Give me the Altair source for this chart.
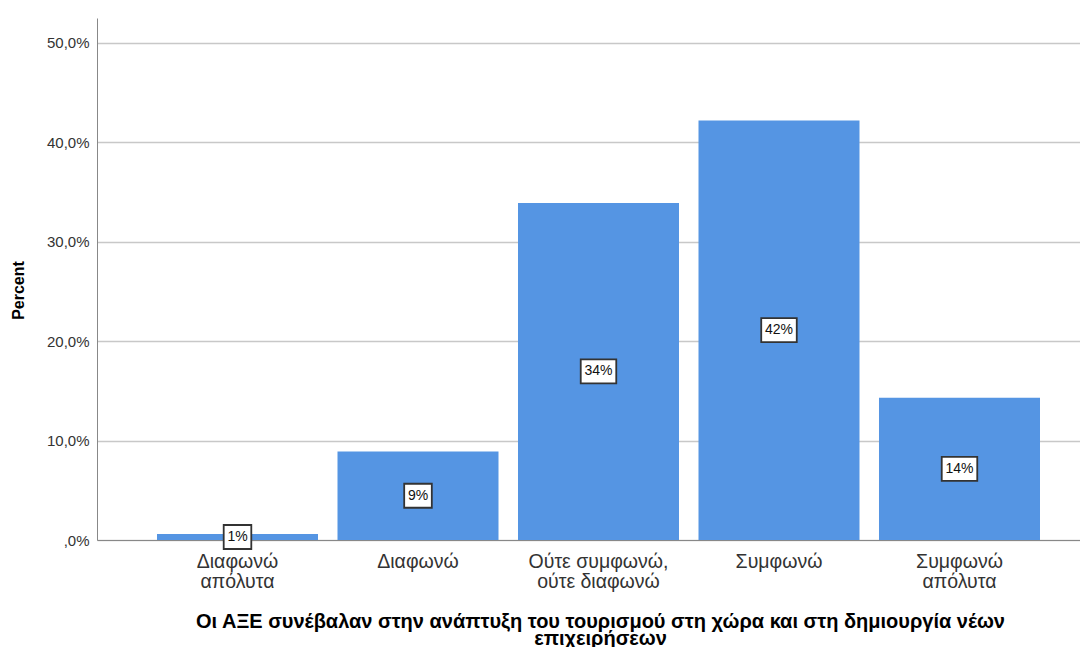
import altair as alt
import pandas as pd

# category labels ("|" marks a line break in the axis label)
categories = [
    "Διαφωνώ|απόλυτα",
    "Διαφωνώ",
    "Ούτε συμφωνώ,|ούτε διαφωνώ",
    "Συμφωνώ",
    "Συμφωνώ|απόλυτα",
]
percents = [0.6, 8.9, 33.9, 42.2, 14.3]
bar_labels = ["1%", "9%", "34%", "42%", "14%"]
y_ticks = [0, 10, 20, 30, 40, 50]

df = pd.DataFrame({"cat": categories, "pct": percents, "lbl": bar_labels})

FONT = "Liberation Sans"

x_scale = alt.Scale(paddingInner=0.108, paddingOuter=0.277, align=0.6)

x_enc = alt.X(
    "cat:N",
    sort=categories,
    scale=x_scale,
    axis=alt.Axis(
        labelExpr="split(datum.label, '|')",
        labelAngle=0,
        labelFontSize=19.5,
        labelLineHeight=20,
        labelColor="#333333",
        labelPadding=12,
        ticks=False,
        domainColor="#888888",
        grid=False,
        title=[
            "Οι ΑΞΕ συνέβαλαν στην ανάπτυξη του τουρισμού στη χώρα και στη δημιουργία νέων",
            "επιχειρήσεων",
        ],
        titleFontSize=20,
        titleFontWeight="bold",
        titleColor="#000000",
        titleLineHeight=17,
        titleX=503,
        titleY=71,
        titleBaseline="top",
        titleAlign="center",
    ),
)

y_scale = alt.Scale(domain=[0, 52.5], nice=False, zero=True)

base = alt.Chart(df)

bars = base.mark_bar(color="#5595e3").encode(
    x=x_enc,
    y=alt.Y(
        "pct:Q",
        scale=y_scale,
        axis=alt.Axis(
            values=y_ticks,
            labelExpr="datum.value == 0 ? ',0%' : replace(format(datum.value, '.1f'), '.', ',') + '%'",
            labelFontSize=15,
            labelColor="#333333",
            labelPadding=8,
            ticks=False,
            domainColor="#888888",
            grid=True,
            gridColor="#c8c8c8",
            gridWidth=1.3,
            title="Percent",
            titleFontSize=16,
            titleFontWeight="bold",
            titleColor="#000000",
            titleAngle=270,
            titleAlign="center",
            titleBaseline="alphabetic",
            titleX=-74,
            titleY=272,
        ),
    ),
)

short_box = "M -1.15 -1 L 1.15 -1 L 1.15 1 L -1.15 1 Z"
long_box = "M -1.48 -1 L 1.48 -1 L 1.48 1 L -1.48 1 Z"

mid = base.transform_calculate(mid="datum.pct / 2", n="length(datum.lbl)")

box_style = dict(size=576, filled=True, fill="white", stroke="#333333",
                 strokeWidth=1.8, opacity=1)

boxes_short = mid.transform_filter("datum.n <= 2").mark_point(
    shape=short_box, **box_style
).encode(x=alt.X("cat:N", sort=categories, scale=x_scale), y=alt.Y("mid:Q", scale=y_scale))

boxes_long = mid.transform_filter("datum.n > 2").mark_point(
    shape=long_box, **box_style
).encode(x=alt.X("cat:N", sort=categories, scale=x_scale), y=alt.Y("mid:Q", scale=y_scale))

texts = mid.mark_text(fontSize=14, color="#111111", baseline="middle", align="center").encode(
    x=alt.X("cat:N", sort=categories, scale=x_scale),
    y=alt.Y("mid:Q", scale=y_scale),
    text="lbl:N",
)

chart = (
    alt.layer(bars, boxes_short, boxes_long, texts)
    .properties(
        width=983,
        height=522,
        autosize=alt.AutoSizeParams(type="none"),
        padding={"left": 89, "top": 10, "right": 0, "bottom": 107},
    )
    .configure(font=FONT)
    .configure_view(stroke=None)
    .configure_axis(labelFont=FONT, titleFont=FONT)
)

chart.save("out.html", embed_options={"renderer": "svg", "actions": False})
